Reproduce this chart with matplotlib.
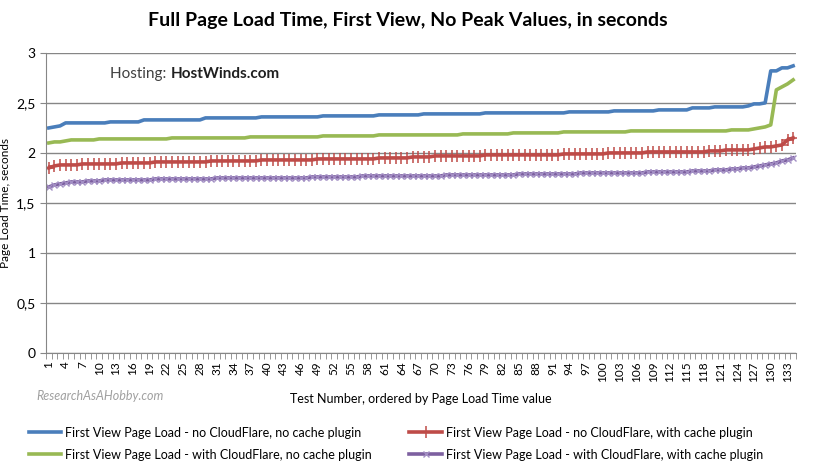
import matplotlib
matplotlib.use("Agg")
import matplotlib.pyplot as plt
from matplotlib.ticker import FixedLocator, FuncFormatter

plt.rcParams['font.family'] = ['Lato', 'DejaVu Sans']

# page load times (s), sorted, 134 tests per series
no_cf_no_cache = [
    2.25, 2.26, 2.27, 2.30, 2.30, 2.30, 2.30, 2.30, 2.30, 2.30,
    2.30, 2.31, 2.31, 2.31, 2.31, 2.31, 2.31, 2.33, 2.33, 2.33,
    2.33, 2.33, 2.33, 2.33, 2.33, 2.33, 2.33, 2.33, 2.35, 2.35,
    2.35, 2.35, 2.35, 2.35, 2.35, 2.35, 2.35, 2.35, 2.36, 2.36,
    2.36, 2.36, 2.36, 2.36, 2.36, 2.36, 2.36, 2.36, 2.36, 2.37,
    2.37, 2.37, 2.37, 2.37, 2.37, 2.37, 2.37, 2.37, 2.37, 2.38,
    2.38, 2.38, 2.38, 2.38, 2.38, 2.38, 2.38, 2.39, 2.39, 2.39,
    2.39, 2.39, 2.39, 2.39, 2.39, 2.39, 2.39, 2.39, 2.40, 2.40,
    2.40, 2.40, 2.40, 2.40, 2.40, 2.40, 2.40, 2.40, 2.40, 2.40,
    2.40, 2.40, 2.40, 2.41, 2.41, 2.41, 2.41, 2.41, 2.41, 2.41,
    2.41, 2.42, 2.42, 2.42, 2.42, 2.42, 2.42, 2.42, 2.42, 2.43,
    2.43, 2.43, 2.43, 2.43, 2.43, 2.45, 2.45, 2.45, 2.45, 2.46,
    2.46, 2.46, 2.46, 2.46, 2.46, 2.47, 2.49, 2.49, 2.50, 2.82,
    2.82, 2.85, 2.85, 2.87,
]
no_cf_cache = [
    1.85, 1.87, 1.88, 1.88, 1.88, 1.88, 1.89, 1.89, 1.89, 1.89,
    1.89, 1.89, 1.89, 1.90, 1.90, 1.90, 1.90, 1.90, 1.90, 1.91,
    1.91, 1.91, 1.91, 1.91, 1.91, 1.91, 1.91, 1.91, 1.91, 1.92,
    1.92, 1.92, 1.92, 1.92, 1.92, 1.92, 1.92, 1.92, 1.93, 1.93,
    1.93, 1.93, 1.93, 1.93, 1.93, 1.93, 1.93, 1.93, 1.94, 1.94,
    1.94, 1.94, 1.94, 1.94, 1.94, 1.94, 1.94, 1.94, 1.94, 1.95,
    1.95, 1.95, 1.95, 1.95, 1.95, 1.96, 1.96, 1.96, 1.96, 1.97,
    1.97, 1.97, 1.97, 1.97, 1.97, 1.97, 1.97, 1.97, 1.98, 1.98,
    1.98, 1.98, 1.98, 1.98, 1.98, 1.98, 1.98, 1.98, 1.98, 1.98,
    1.98, 1.98, 1.99, 1.99, 1.99, 1.99, 1.99, 1.99, 1.99, 1.99,
    2.00, 2.00, 2.00, 2.00, 2.00, 2.00, 2.00, 2.01, 2.01, 2.01,
    2.01, 2.01, 2.01, 2.01, 2.01, 2.01, 2.01, 2.01, 2.02, 2.02,
    2.02, 2.03, 2.03, 2.03, 2.03, 2.03, 2.04, 2.05, 2.06, 2.06,
    2.07, 2.08, 2.13, 2.15,
]
cf_no_cache = [
    2.10, 2.11, 2.11, 2.12, 2.13, 2.13, 2.13, 2.13, 2.13, 2.14,
    2.14, 2.14, 2.14, 2.14, 2.14, 2.14, 2.14, 2.14, 2.14, 2.14,
    2.14, 2.14, 2.15, 2.15, 2.15, 2.15, 2.15, 2.15, 2.15, 2.15,
    2.15, 2.15, 2.15, 2.15, 2.15, 2.15, 2.16, 2.16, 2.16, 2.16,
    2.16, 2.16, 2.16, 2.16, 2.16, 2.16, 2.16, 2.16, 2.16, 2.17,
    2.17, 2.17, 2.17, 2.17, 2.17, 2.17, 2.17, 2.17, 2.17, 2.18,
    2.18, 2.18, 2.18, 2.18, 2.18, 2.18, 2.18, 2.18, 2.18, 2.18,
    2.18, 2.18, 2.18, 2.18, 2.19, 2.19, 2.19, 2.19, 2.19, 2.19,
    2.19, 2.19, 2.19, 2.20, 2.20, 2.20, 2.20, 2.20, 2.20, 2.20,
    2.20, 2.20, 2.21, 2.21, 2.21, 2.21, 2.21, 2.21, 2.21, 2.21,
    2.21, 2.21, 2.21, 2.21, 2.22, 2.22, 2.22, 2.22, 2.22, 2.22,
    2.22, 2.22, 2.22, 2.22, 2.22, 2.22, 2.22, 2.22, 2.22, 2.22,
    2.22, 2.22, 2.23, 2.23, 2.23, 2.23, 2.24, 2.25, 2.26, 2.28,
    2.63, 2.66, 2.69, 2.73,
]
cf_cache = [
    1.66, 1.68, 1.69, 1.70, 1.71, 1.71, 1.71, 1.72, 1.72, 1.72,
    1.73, 1.73, 1.73, 1.73, 1.73, 1.73, 1.73, 1.73, 1.73, 1.74,
    1.74, 1.74, 1.74, 1.74, 1.74, 1.74, 1.74, 1.74, 1.74, 1.74,
    1.75, 1.75, 1.75, 1.75, 1.75, 1.75, 1.75, 1.75, 1.75, 1.75,
    1.75, 1.75, 1.75, 1.75, 1.75, 1.75, 1.75, 1.76, 1.76, 1.76,
    1.76, 1.76, 1.76, 1.76, 1.76, 1.76, 1.77, 1.77, 1.77, 1.77,
    1.77, 1.77, 1.77, 1.77, 1.77, 1.77, 1.77, 1.77, 1.77, 1.77,
    1.77, 1.78, 1.78, 1.78, 1.78, 1.78, 1.78, 1.78, 1.78, 1.78,
    1.78, 1.78, 1.78, 1.78, 1.79, 1.79, 1.79, 1.79, 1.79, 1.79,
    1.79, 1.79, 1.79, 1.79, 1.79, 1.80, 1.80, 1.80, 1.80, 1.80,
    1.80, 1.80, 1.80, 1.80, 1.80, 1.80, 1.80, 1.81, 1.81, 1.81,
    1.81, 1.81, 1.81, 1.81, 1.81, 1.82, 1.82, 1.82, 1.82, 1.83,
    1.83, 1.83, 1.84, 1.84, 1.85, 1.85, 1.86, 1.87, 1.88, 1.89,
    1.90, 1.92, 1.93, 1.95,
]
test_no = list(range(1, len(no_cf_no_cache) + 1))
labels = [
    "First View Page Load - no CloudFlare, no cache plugin",
    "First View Page Load - no CloudFlare, with cache plugin",
    "First View Page Load - with CloudFlare, no cache plugin",
    "First View Page Load - with CloudFlare, with cache plugin",
]

grid_c = '#868686'
fig = plt.figure(figsize=(8.16, 4.72), dpi=100)
ax = fig.add_axes([0.0564, 0.252, 0.919, 0.636])

l1, = ax.plot(test_no, no_cf_no_cache, color='#4A7EBB', lw=2.6)
l2, = ax.plot(test_no, no_cf_cache, color='#BE4B48', lw=2.6, marker='+',
              ms=9, mew=1.1)
l3, = ax.plot(test_no, cf_no_cache, color='#98B954', lw=2.6)
l4, = ax.plot(test_no, cf_cache, color='#7D60A0', lw=2.6, marker='x',
              ms=5, mew=1.0, mec='#A38FC4')

n = len(test_no)
ax.set_xlim(0.5, n + 0.5)
ax.set_ylim(0, 3)
ax.set_yticks([0, 0.5, 1, 1.5, 2, 2.5, 3])
ax.yaxis.set_major_formatter(FuncFormatter(lambda v, p: ('%g' % v).replace('.', ',')))
ax.grid(axis='y', color=grid_c, lw=1)
ax.set_axisbelow(True)
for s in ['top', 'right']:
    ax.spines[s].set_visible(False)
for s in ['left', 'bottom']:
    ax.spines[s].set_color(grid_c)
ax.tick_params(axis='y', colors=grid_c, labelcolor='black', labelsize=10, length=4)

ax.xaxis.set_major_locator(FixedLocator(test_no[::3]))
ax.set_xticklabels([str(t) for t in test_no[::3]], rotation=90, fontsize=8.5)
ax.xaxis.set_minor_locator(FixedLocator([t + 0.5 for t in range(0, n + 1)]))
ax.tick_params(axis='x', which='major', length=0, pad=6)
ax.tick_params(axis='x', which='minor', length=4, color=grid_c)

ax.set_ylabel('Page Load Time, seconds', fontsize=8.5, labelpad=4)
ax.set_xlabel('Test Number, ordered by Page Load Time value', fontsize=9, labelpad=8)

fig.suptitle('Full Page Load Time, First View, No Peak Values, in seconds',
             fontsize=14, fontweight='bold', y=0.975)

t1 = fig.text(0.135, 0.835, 'Hosting: ', fontsize=11, color='#404040')
ax.annotate('HostWinds.com', xy=(1, 0), xycoords=t1, fontsize=11,
            fontweight='bold', color='#202020', va='bottom')

fig.text(0.045, 0.152, 'ResearchAsAHobby.com', fontsize=9, style='italic',
         color='#a0a0a0')

# row-wise order like the original legend
fig.legend([l1, l3, l2, l4], [labels[0], labels[2], labels[1], labels[3]],
           loc='lower center', ncol=2, bbox_to_anchor=(0.485, 0.0),
           frameon=False, fontsize=9, handlelength=2.6, columnspacing=3,
           handletextpad=0.3, labelspacing=0.8)

fig.savefig('out.png', dpi=100)
